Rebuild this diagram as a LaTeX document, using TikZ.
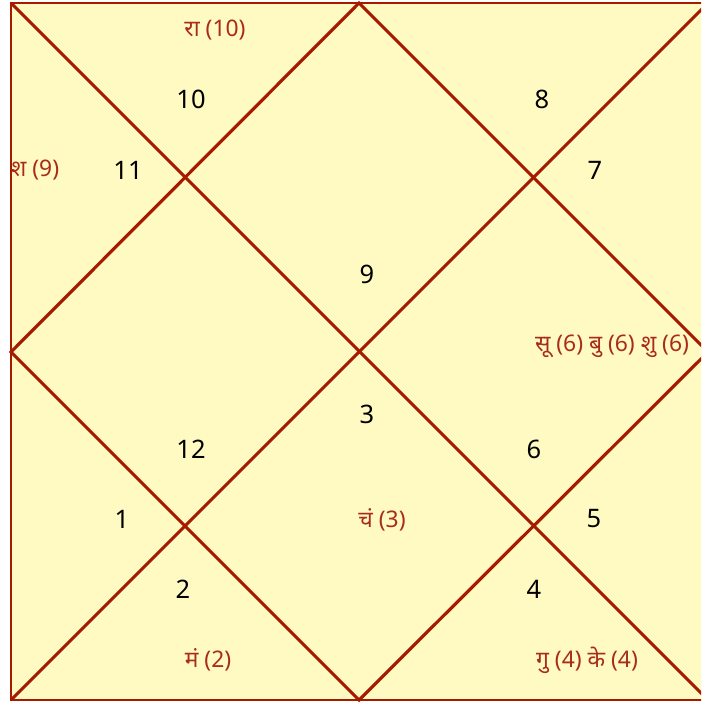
\documentclass[tikz,border=0pt]{standalone}
\usepackage{fontspec}
\setmainfont{Noto Sans}
\newfontfamily\devfont[Script=Devanagari]{Noto Sans}
\definecolor{chartfill}{HTML}{FFF9C2}
\definecolor{chartline}{HTML}{A61A00}
\definecolor{grahared}{HTML}{A82C18}

\begin{document}
\begin{tikzpicture}[
    x=0.02cm, y=-0.02cm,
    chart/.style={draw=chartline, line width=1.8pt},
    frame/.style={draw=chartline, line width=1.2pt},
    house/.style={font=\fontsize{14.5}{16}\selectfont, text=black, inner sep=0pt},
    graha/.style={font=\devfont\fontsize{13}{15}\selectfont, text=grahared, inner sep=0pt}
  ]
    \useasboundingbox (0,0) rectangle (701,702);
    \clip (0,0) rectangle (701,702);

    % corners and midpoints of the chart
    \coordinate (nw) at (11,3);
    \coordinate (ne) at (708,3);
    \coordinate (se) at (708,700);
    \coordinate (sw) at (11,700);
    \coordinate (n) at (359,3);
    \coordinate (e) at (708,352);
    \coordinate (s) at (359,700);
    \coordinate (w) at (11,352);

    \fill[chartfill] (nw) rectangle (se);
    \draw[frame] (nw) -- (ne) -- (se) -- (sw) -- cycle;
    \draw[chart] (nw) -- (se);
    \draw[chart] (ne) -- (sw);
    \draw[chart] (n) -- (e) -- (s) -- (w) -- cycle;

    % house numbers
    \node[house] (h9) at (367,274) {9};
    \node[house] (h10) at (191,99) {10};
    \node[house] (h11) at (128,170) {11};
    \node[house] (h12) at (191,449) {12};
    \node[house] (h1) at (122,519) {1};
    \node[house] (h2) at (183,589) {2};
    \node[house] (h3) at (367,414) {3};
    \node[house] (h4) at (534,589) {4};
    \node[house] (h5) at (594,519) {5};
    \node[house] (h6) at (534,449) {6};
    \node[house] (h7) at (595,170) {7};
    \node[house] (h8) at (542,99) {8};

    % planets
    \node[graha] (ra) at (215,30) {रा (10)};
    \node[graha] (sha) at (35,170) {श (9)};
    \node[graha] (sun) at (612,346) {सू (6) बु (6) शु (6)};
    \node[graha] (chan) at (382,520) {चं (3)};
    \node[graha] (mang) at (208,660) {मं (2)};
    \node[graha] (guru) at (587,660) {गु (4) के (4)};
  \end{tikzpicture}
\end{document}
